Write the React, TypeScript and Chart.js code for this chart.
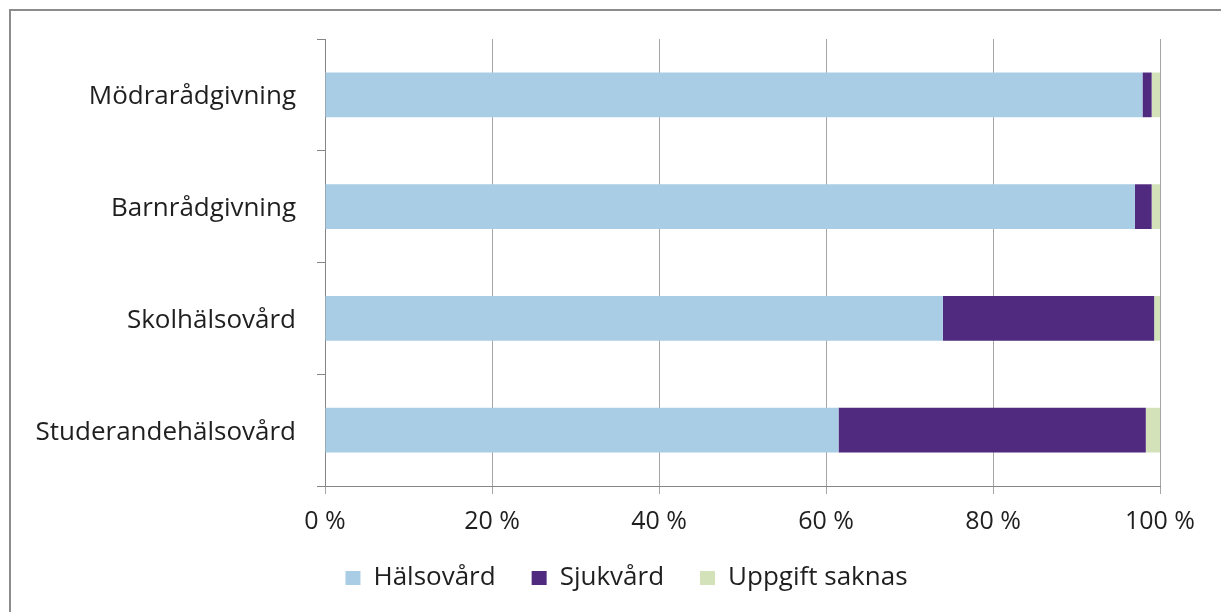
import React, { useEffect, useRef } from "react";
import { Chart, registerables } from "chart.js";

Chart.register(...registerables);

const categories = ["Mödrarådgivning", "Barnrådgivning", "Skolhälsovård", "Studerandehälsovård"];
const halsovard = [97.9, 97.0, 74.0, 61.5];
const sjukvard = [1.1, 2.0, 25.3, 36.8];
const uppgiftSaknas = [1.0, 1.0, 0.7, 1.7];
const xTicks = [0, 20, 40, 60, 80, 100];

const FONT = "'Open Sans', Lato, sans-serif";

const legendShift = {
  id: "legendShift",
  beforeDraw(chart: any) {
    if (chart.legend) {
      chart.legend.left = 93;
      chart.legend.right = 1160;
    }
  },
};

export default function App() {
  const ref = useRef<HTMLCanvasElement | null>(null);
  useEffect(() => {
    const ctx = ref.current!;
    const chart = new Chart(ctx, {
      type: "bar",
      data: {
        labels: categories,
        datasets: [
          { label: "Hälsovård", data: halsovard, backgroundColor: "#A9CDE5" },
          { label: "Sjukvård", data: sjukvard, backgroundColor: "#4F2A7F" },
          { label: "Uppgift saknas", data: uppgiftSaknas, backgroundColor: "#D3E2B8" },
        ],
      },
      options: {
        indexAxis: "y",
        animation: false,
        responsive: false,
        maintainAspectRatio: false,
        layout: { padding: { left: 0, right: 61, top: 39, bottom: 11 } },
        datasets: { bar: { barPercentage: 0.4, categoryPercentage: 1.0 } },
        scales: {
          x: {
            stacked: true,
            min: 0,
            max: 100,
            afterBuildTicks: (s: any) => {
              s.ticks = xTicks.map((v) => ({ value: v }));
            },
            afterFit: (s: any) => {
              s.height = 43;
            },
            grid: { color: "#A6A6A6", lineWidth: 1, drawTicks: true, tickLength: 8, tickColor: "#A6A6A6" },
            border: { color: "#868686", width: 1 },
            ticks: {
              color: "#1F1F1F",
              font: { family: FONT, size: 25 },
              padding: 13,
              maxRotation: 0,
              callback: (v: any) => v + " %",
            },
          },
          y: {
            stacked: true,
            afterFit: (s: any) => {
              s.width = 325;
            },
            grid: { offset: true, drawOnChartArea: false, drawTicks: true, tickLength: 8, tickColor: "#868686" },
            border: { color: "#868686", width: 1 },
            ticks: { color: "#1F1F1F", font: { family: FONT, size: 26 }, padding: 21, labelOffset: 2 },
          },
        },
        plugins: {
          legend: {
            position: "bottom",
            labels: {
              color: "#1F1F1F",
              font: { family: FONT, size: 26 },
              boxWidth: 15,
              boxHeight: 14,
              padding: 36,
            },
          },
          tooltip: { enabled: false },
        },
      },
      plugins: [legendShift],
    });
    return () => chart.destroy();
  }, []);

  return (
    <div style={{ position: "fixed", left: 0, top: 0, width: 1221, height: 612, background: "#fff", overflow: "hidden" }}>
      <div
        style={{
          position: "absolute",
          left: 9,
          top: 9,
          width: 1300,
          height: 700,
          borderLeft: "2px solid #8C8C8C",
          borderTop: "2px solid #8C8C8C",
        }}
      />
      <canvas ref={ref} width={1221} height={612} style={{ position: "absolute", left: 0, top: 0 }} />
    </div>
  );
}
